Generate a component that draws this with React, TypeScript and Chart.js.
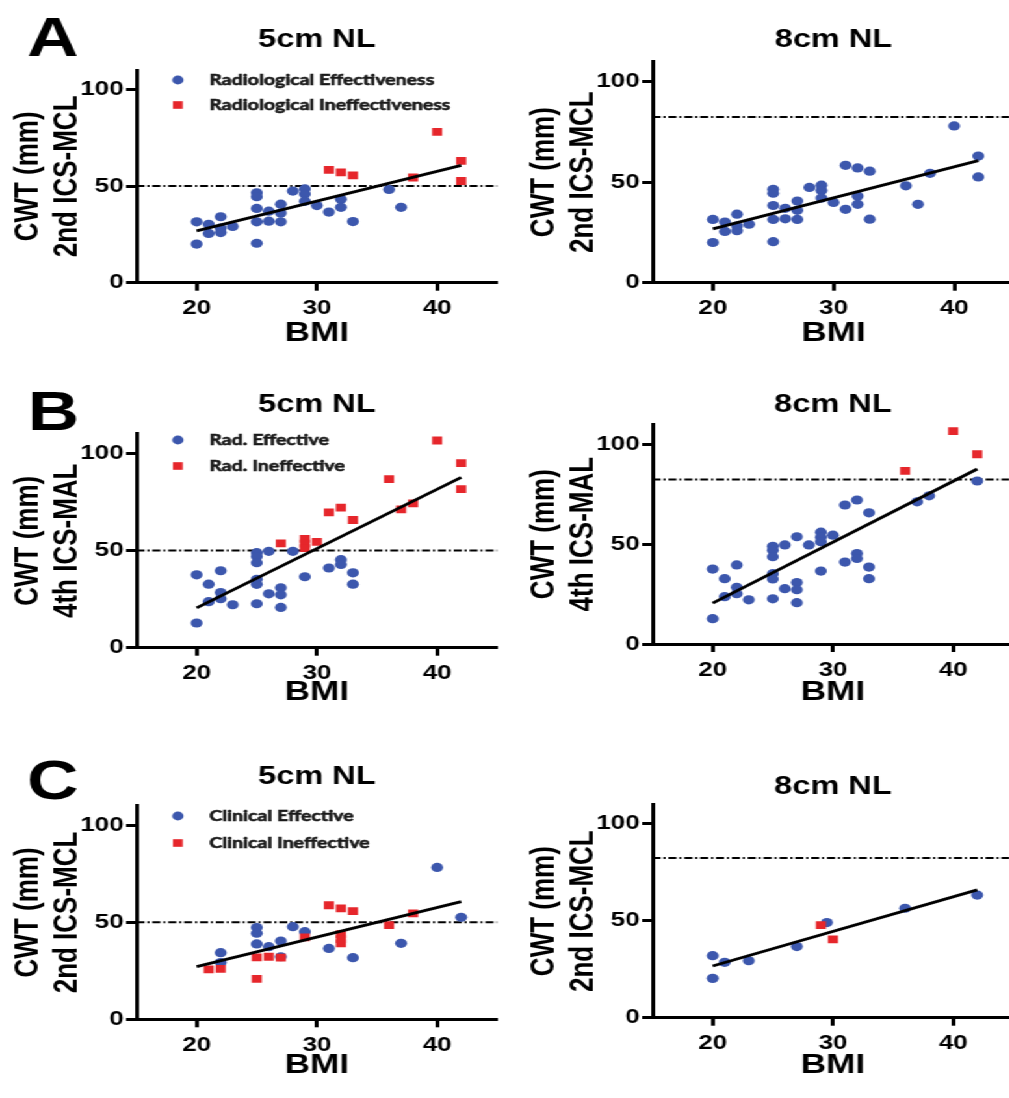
import React, { useEffect, useRef } from 'react';
import { Chart, registerables } from 'chart.js';

Chart.register(...registerables);

// ---------------- data ----------------
const xTicks = [20, 30, 40];
const yTicks = [0, 50, 100];
const xRange = [15, 45];
const yRange = [0, 110];

// A: CWT at 2nd ICS-MCL, radiological classification
const bmiA_eff = [20, 20, 21, 21, 22, 22, 22, 23, 25, 25, 25, 25, 25, 26, 26, 27, 27, 27, 28, 29, 29, 29, 30, 31, 32, 32, 33, 36, 37];
const cwtA_eff = [31.5, 20, 30.2, 25.5, 34.1, 28.2, 25.9, 29.1, 46.5, 44.5, 38.4, 31.5, 20.4, 37, 31.8, 40.6, 36, 31.5, 47.4, 48.5, 45.9, 42.1, 39.9, 36.5, 43.1, 39, 31.6, 48.2, 39];
const bmiA_ineff = [31, 32, 33, 38, 40, 42, 42];
const cwtA_ineff = [58.4, 57.1, 55.5, 54.4, 78, 63, 52.6];

// B: CWT at 4th ICS-MAL, radiological classification
const bmiB_eff = [20, 20, 21, 21, 22, 22, 22, 23, 25, 25, 25, 25, 25, 25, 26, 26, 27, 27, 27, 28, 29, 31, 32, 32, 33, 33];
const cwtB_eff = [37.5, 12.7, 32.7, 23.7, 39.6, 28.4, 25.2, 22.1, 48.9, 46.9, 43.7, 35.2, 32.6, 22.6, 49.6, 27.7, 30.8, 27.2, 20.7, 49.6, 36.5, 41, 45.3, 42.8, 38.5, 32.7];
const bmiB_ineff = [27, 29, 29, 29, 30, 31, 32, 33, 36, 37, 38, 40, 42, 42];
const cwtB_ineff = [53.7, 56, 53.5, 51.2, 54.5, 69.6, 72.1, 65.7, 86.7, 71.2, 74.2, 106.6, 95, 81.6];

// C: CWT at 2nd ICS-MCL, clinical classification (5 cm NL)
const bmiC5_eff = [22, 22, 25, 25, 25, 26, 27, 27, 28, 29, 31, 33, 37, 40, 42];
const cwtC5_eff = [34.3, 29.2, 47.2, 44.3, 38.8, 37.4, 40.3, 32.2, 47.7, 45.1, 36.5, 31.7, 39.1, 78.2, 52.5];
const bmiC5_ineff = [21, 22, 25, 25, 26, 27, 29, 31, 32, 32, 32, 32, 33, 36, 38];
const cwtC5_ineff = [25.7, 25.9, 31.9, 20.8, 32.2, 31.7, 42.2, 58.7, 57.1, 43.9, 41.3, 39.1, 55.7, 48.5, 54.5];

// C: 8 cm NL
const bmiC8_eff = [20, 20, 21, 23, 27, 29.5, 36, 42];
const cwtC8_eff = [32, 20.3, 28.6, 29.4, 36.7, 49.1, 56.5, 63.3];
const bmiC8_ineff = [29, 30];
const cwtC8_ineff = [47.8, 40.4];

// regression line end points
const fitA_x = [20, 42];
const fitA_y = [26.8, 60.7];
const fitB_x = [20, 42];
const fitB_y = [20.5, 87.6];
const fitC5_x = [20, 42];
const fitC5_y = [27.1, 60.6];
const fitC8_x = [20, 42];
const fitC8_y = [26.7, 66];

// needle-length thresholds
const thr5 = 50;
const thr8 = 82.4;

const legendA = ['Radiological Effectiveness', 'Radiological Ineffectiveness'];
const legendB = ['Rad. Effective', 'Rad. Ineffective'];
const legendC = ['Clinical Effective', 'Clinical Ineffective'];
const yTitleA = ['CWT (mm)', '2nd ICS-MCL'];
const yTitleB = ['CWT (mm)', '4th ICS-MAL'];
const yTitleC = ['CWT (mm)', '2nd ICS-MCL'];

// ---------------- style / layout ----------------
const S = 1.3; // horizontal stretch of the figure
const FONT = '"Liberation Sans", Arial, Helvetica, sans-serif';
const LEGEND_FONT = 'Lato, "Open Sans", sans-serif';
const BLUE = '#3c57ad';
const RED = '#e6262b';
const WY = 98;
const BMI_SIZE = 27;
const BMI_LH = 1.2;

type P = { x: number; y: number };
const pts = (xs: number[], ys: number[]): P[] => xs.map((x, i) => ({ x, y: ys[i] }));

type Geo = { rowTop: number; chartL: number; chartR: number; chartT: number; chartB: number; titleY: number; bmiY: number };
type PanelCfg = {
  key: string;
  geo: Geo;
  title: string;
  yTitle: string[];
  letter?: string;
  letterY?: number;
  blue: P[];
  red: P[];
  fit: P[];
  thr: number;
  legend?: string[];
  legendY?: number[];
};

const allA = pts([...bmiA_eff, ...bmiA_ineff], [...cwtA_eff, ...cwtA_ineff]);
const allB = pts([...bmiB_eff, ...bmiB_ineff], [...cwtB_eff, ...cwtB_ineff]);

const panels: PanelCfg[] = [
  {
    key: 'A5', geo: { rowTop: 0, chartL: 137, chartR: 500, chartT: 70, chartB: 282.7, titleY: 40, bmiY: 334 },
    title: '5cm NL', yTitle: yTitleA, letter: 'A', letterY: 36,
    blue: pts(bmiA_eff, cwtA_eff), red: pts(bmiA_ineff, cwtA_ineff), fit: pts(fitA_x, fitA_y), thr: thr5,
    legend: legendA, legendY: [80, 105],
  },
  {
    key: 'A8', geo: { rowTop: 0, chartL: 652.7, chartR: 1016.3, chartT: 61.6, chartB: 282.7, titleY: 40, bmiY: 334 },
    title: '8cm NL', yTitle: yTitleA,
    blue: allA.filter(p => p.y < thr8), red: allA.filter(p => p.y >= thr8), fit: pts(fitA_x, fitA_y), thr: thr8,
  },
  {
    key: 'B5', geo: { rowTop: 360, chartL: 136.5, chartR: 499.5, chartT: 433.9, chartB: 647.7, titleY: 405, bmiY: 693 },
    title: '5cm NL', yTitle: yTitleB, letter: 'B', letterY: 410,
    blue: pts(bmiB_eff, cwtB_eff), red: pts(bmiB_ineff, cwtB_ineff), fit: pts(fitB_x, fitB_y), thr: thr5,
    legend: legendB, legendY: [440, 466],
  },
  {
    key: 'B8', geo: { rowTop: 360, chartL: 652, chartR: 1015.6, chartT: 424.3, chartB: 644, titleY: 405, bmiY: 693 },
    title: '8cm NL', yTitle: yTitleB,
    blue: allB.filter(p => p.y < thr8), red: allB.filter(p => p.y >= thr8), fit: pts(fitB_x, fitB_y), thr: thr8,
  },
  {
    key: 'C5', geo: { rowTop: 730, chartL: 137, chartR: 500, chartT: 805.6, chartB: 1019.3, titleY: 777, bmiY: 1066 },
    title: '5cm NL', yTitle: yTitleC, letter: 'C', letterY: 779,
    blue: pts(bmiC5_eff, cwtC5_eff), red: pts(bmiC5_ineff, cwtC5_ineff), fit: pts(fitC5_x, fitC5_y), thr: thr5,
    legend: legendC, legendY: [816, 843],
  },
  {
    key: 'C8', geo: { rowTop: 730, chartL: 652.7, chartR: 1016.3, chartT: 804.6, chartB: 1017.7, titleY: 787, bmiY: 1066 },
    title: '8cm NL', yTitle: yTitleC,
    blue: pts(bmiC8_eff, cwtC8_eff), red: pts(bmiC8_ineff, cwtC8_ineff), fit: pts(fitC8_x, fitC8_y), thr: thr8,
  },
];

function layoutOf(g: Geo) {
  const left = g.chartL / S - WY;
  const chartRu = g.chartR / S;
  const w = Math.ceil(chartRu - left + 3);
  const padRight = w - (chartRu - left);
  const hx = g.bmiY + (BMI_SIZE * BMI_LH) / 2 - g.chartB;
  const innerH = g.chartB + hx - g.rowTop;
  const h = Math.ceil(innerH + 1);
  return { left, top: g.rowTop, w, h, padTop: g.chartT - g.rowTop, padRight, padBottom: h - innerH, hx };
}

function makeDeco(p: PanelCfg, L: ReturnType<typeof layoutOf>) {
  return {
    id: 'deco_' + p.key,
    afterDraw(chart: any) {
      const { ctx, chartArea } = chart;
      ctx.save();
      ctx.fillStyle = '#000';
      ctx.textAlign = 'center';
      ctx.textBaseline = 'middle';
      ctx.font = `bold 25px ${FONT}`;
      ctx.fillText(p.title, (chartArea.left + chartArea.right) / 2, p.geo.titleY - p.geo.rowTop);
      if (p.letter) {
        const fs = 55;
        ctx.font = `bold ${fs}px ${FONT}`;
        ctx.textBaseline = 'alphabetic';
        ctx.fillText(p.letter, 41 - L.left, (p.letterY as number) - p.geo.rowTop + 0.358 * fs);
      }
      if (p.legend && p.legendY) {
        const mx = chartArea.left + 31.8;
        const tx = chartArea.left + 56.1;
        ctx.textAlign = 'left';
        ctx.textBaseline = 'middle';
        ctx.font = `bold 15px ${LEGEND_FONT}`;
        p.legend.forEach((txt, i) => {
          const y = p.legendY![i] - p.geo.rowTop;
          if (i === 0) {
            ctx.fillStyle = BLUE;
            ctx.beginPath();
            ctx.arc(mx, y, 4.4, 0, Math.PI * 2);
            ctx.fill();
          } else {
            ctx.fillStyle = RED;
            ctx.fillRect(mx - 3.8, y - 3.8, 7.6, 7.6);
          }
          ctx.fillStyle = '#1a1a1a';
          ctx.strokeStyle = '#1a1a1a';
          ctx.lineWidth = 0.6;
          ctx.fillText(txt, tx, y);
          ctx.strokeText(txt, tx, y);
        });
      }
      ctx.restore();
    },
  };
}

function Panel({ p }: { p: PanelCfg }) {
  const ref = useRef<HTMLCanvasElement>(null);
  const L = layoutOf(p.geo);
  useEffect(() => {
    const tickFont = { family: FONT, size: 20, weight: 'bold' as const };
    const chart = new Chart(ref.current as HTMLCanvasElement, {
      type: 'scatter',
      data: {
        datasets: [
          {
            label: 'threshold',
            data: [{ x: xRange[0], y: p.thr }, { x: xRange[1], y: p.thr }],
            showLine: true,
            borderColor: '#000',
            borderWidth: 2,
            borderDash: [6.2, 2.2, 1.6, 2.2],
            pointRadius: 0,
            order: 4,
          } as any,
          {
            label: 'effective',
            data: p.blue,
            pointStyle: 'circle',
            pointRadius: 4.6,
            backgroundColor: BLUE,
            borderColor: BLUE,
            borderWidth: 0,
            order: 3,
          },
          {
            label: 'ineffective',
            data: p.red,
            pointStyle: 'rect',
            pointRadius: 5.5,
            backgroundColor: RED,
            borderColor: RED,
            borderWidth: 0,
            order: 2,
          },
          {
            label: 'fit',
            data: p.fit,
            showLine: true,
            borderColor: '#000',
            borderWidth: 2.8,
            pointRadius: 0,
            order: 1,
          } as any,
        ],
      },
      options: {
        responsive: false,
        animation: false,
        devicePixelRatio: 1,
        events: [],
        layout: { padding: { left: 0, right: L.padRight, top: L.padTop, bottom: L.padBottom } },
        plugins: { legend: { display: false }, tooltip: { enabled: false }, title: { display: false } },
        scales: {
          x: {
            type: 'linear',
            min: xRange[0],
            max: xRange[1],
            afterBuildTicks: (a: any) => { a.ticks = xTicks.map(v => ({ value: v })); },
            afterFit: (s: any) => { s.height = L.hx; },
            ticks: { font: tickFont, color: '#000', padding: 6, autoSkip: false, maxRotation: 0 },
            grid: { display: true, drawOnChartArea: false, drawTicks: true, tickLength: 8, tickWidth: 3, tickColor: '#000' },
            border: { display: true, width: 3, color: '#000' },
            title: { display: true, text: 'BMI', color: '#000', padding: 0, font: { family: FONT, size: BMI_SIZE, weight: 'bold', lineHeight: BMI_LH } },
          },
          y: {
            type: 'linear',
            min: yRange[0],
            max: yRange[1],
            afterBuildTicks: (a: any) => { a.ticks = yTicks.map(v => ({ value: v })); },
            afterFit: (s: any) => { s.width = WY; },
            ticks: { font: tickFont, color: '#000', padding: 2, autoSkip: false },
            grid: { display: true, drawOnChartArea: false, drawTicks: true, tickLength: 8, tickWidth: 3, tickColor: '#000' },
            border: { display: true, width: 3, color: '#000' },
            title: { display: true, text: p.yTitle, color: '#000', padding: 0, font: { family: FONT, size: 26, weight: 'bold', lineHeight: 1.15 } },
          },
        },
      } as any,
      plugins: [makeDeco(p, L)],
    });
    return () => chart.destroy();
  }, []);
  return (
    <canvas
      ref={ref}
      width={L.w}
      height={L.h}
      style={{ position: 'absolute', left: L.left, top: L.top, width: L.w, height: L.h }}
    />
  );
}

export default function App() {
  return (
    <div style={{ position: 'absolute', left: 0, top: 0, width: 1009, height: 1098, overflow: 'hidden', background: '#fff' }}>
      <div style={{ position: 'absolute', left: 0, top: 0, width: 1009 / S, height: 1098, transform: `scaleX(${S})`, transformOrigin: '0 0' }}>
        {panels.map(p => <Panel key={p.key} p={p} />)}
      </div>
    </div>
  );
}
